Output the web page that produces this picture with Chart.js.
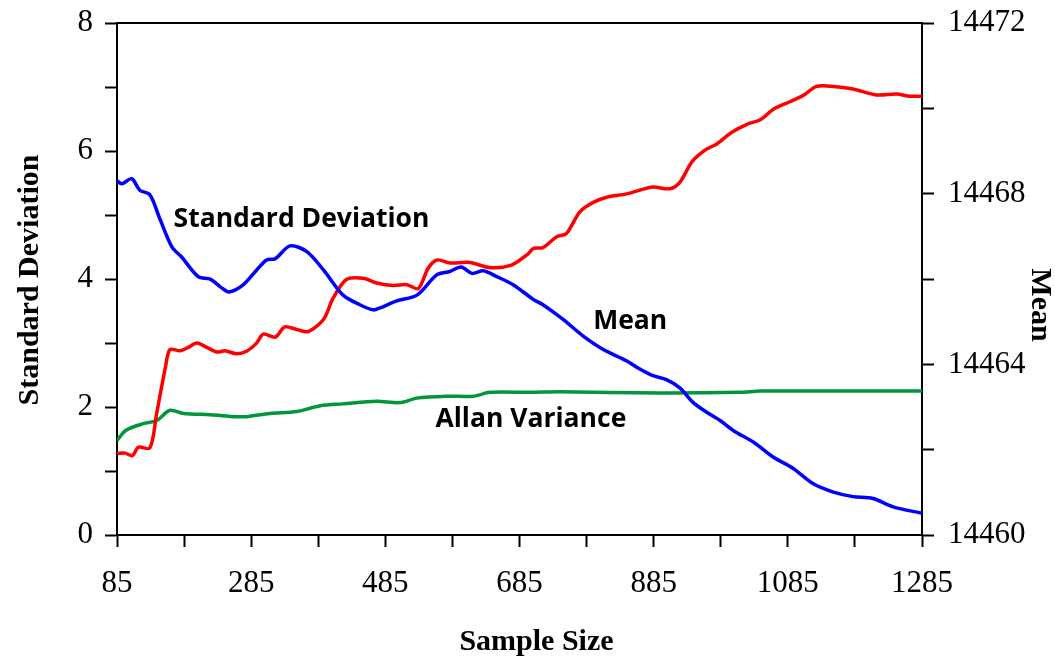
<!DOCTYPE html>
<html>
<head>
<meta charset="utf-8">
<script src="https://cdn.jsdelivr.net/npm/chart.js@4.4.1/dist/chart.umd.min.js"></script>
<style>
  body { margin: 0; background: #fff; }
  canvas { display: block; }
</style>
</head>
<body>
<canvas id="stabilityChart" width="1055" height="656"></canvas>
<script>
// standard deviation (left axis)
var stdSamples = [85, 92, 107, 119, 134, 149, 167, 181, 206, 224, 239, 252, 273, 293, 308, 321, 343, 368, 393, 422, 447, 467, 477, 502, 532, 562, 581, 598, 614, 631, 651, 676, 706, 720, 750, 780, 810, 845, 865, 884, 904, 924, 944, 964, 984, 1004, 1034, 1063, 1093, 1123, 1153, 1182, 1212, 1242, 1285];
var stdValues = [5.54, 5.49, 5.57, 5.39, 5.32, 4.94, 4.50, 4.35, 4.04, 4.00, 3.88, 3.80, 3.91, 4.14, 4.30, 4.32, 4.52, 4.43, 4.14, 3.75, 3.60, 3.52, 3.55, 3.66, 3.75, 4.07, 4.12, 4.19, 4.09, 4.13, 4.04, 3.91, 3.68, 3.60, 3.37, 3.11, 2.90, 2.72, 2.59, 2.49, 2.43, 2.30, 2.07, 1.92, 1.79, 1.63, 1.45, 1.22, 1.04, 0.80, 0.67, 0.60, 0.57, 0.44, 0.34];

// mean (right axis)
var meanSamples = [85, 97, 108, 117, 134, 144, 157, 164, 179, 191, 204, 219, 234, 246, 263, 278, 293, 303, 321, 335, 353, 370, 393, 407, 427, 452, 472, 497, 517, 534, 549, 562, 581, 611, 641, 673, 696, 706, 720, 740, 755, 775, 795, 815, 845, 865, 884, 909, 924, 942, 962, 979, 1001, 1024, 1044, 1063, 1088, 1108, 1128, 1153, 1182, 1217, 1247, 1267, 1285];
var meanValues = [14461.91, 14461.92, 14461.86, 14462.06, 14462.04, 14462.84, 14463.92, 14464.35, 14464.32, 14464.40, 14464.50, 14464.40, 14464.29, 14464.32, 14464.25, 14464.31, 14464.50, 14464.71, 14464.64, 14464.88, 14464.82, 14464.77, 14465.06, 14465.55, 14465.99, 14466.02, 14465.91, 14465.85, 14465.87, 14465.78, 14466.26, 14466.45, 14466.38, 14466.39, 14466.27, 14466.33, 14466.57, 14466.72, 14466.74, 14466.99, 14467.07, 14467.58, 14467.80, 14467.92, 14468.00, 14468.09, 14468.16, 14468.12, 14468.27, 14468.75, 14469.03, 14469.17, 14469.44, 14469.63, 14469.74, 14469.98, 14470.16, 14470.31, 14470.52, 14470.52, 14470.46, 14470.32, 14470.34, 14470.29, 14470.29];

// allan variance (left axis)
var allanSamples = [85, 99, 124, 144, 164, 184, 224, 263, 278, 313, 353, 388, 422, 472, 507, 532, 576, 616, 641, 701, 745, 894, 1014, 1044, 1285];
var allanValues = [1.48, 1.64, 1.74, 1.79, 1.95, 1.90, 1.88, 1.85, 1.85, 1.90, 1.93, 2.02, 2.05, 2.09, 2.07, 2.14, 2.17, 2.17, 2.23, 2.23, 2.24, 2.22, 2.23, 2.25, 2.25];

// labelled ticks
var sampleLabels = [85, 285, 485, 685, 885, 1085, 1285];
var stdLabels = [0, 2, 4, 6, 8];
var meanLabels = [14460, 14464, 14468, 14472];

// in-plot captions, placed in data coordinates of the left axis
var captions = [
    { text: 'Standard Deviation', x: 360, y: 4.94 },
    { text: 'Mean', x: 850, y: 3.34 },
    { text: 'Allan Variance', x: 702, y: 1.80 }
];

function points(xs, ys) {
    return xs.map(function (x, i) { return { x: x, y: ys[i] }; });
}

var serif = 'Liberation Serif, Times New Roman, serif';

function axisGrid() {
    return { drawOnChartArea: false, drawTicks: true, tickLength: 12, tickWidth: 2, tickColor: '#000', color: '#000' };
}

// draw axis titles and the captions
var textPlugin = {
    id: 'textPlugin',
    afterDraw: function (chart) {
        var ctx = chart.ctx;
        var area = chart.chartArea;
        ctx.save();
        ctx.fillStyle = '#000';
        ctx.textAlign = 'center';
        ctx.textBaseline = 'middle';

        ctx.font = 'bold 26.5px "Open Sans"';
        captions.forEach(function (c) {
            ctx.fillText(c.text, chart.scales.x.getPixelForValue(c.x), chart.scales.y.getPixelForValue(c.y));
        });

        ctx.font = 'bold 30px ' + serif;
        ctx.textBaseline = 'alphabetic';
        ctx.fillText('Sample Size', area.left + (area.right - area.left) / 2 + 17, 650);

        ctx.save();
        ctx.translate(38, 280);
        ctx.rotate(-Math.PI / 2);
        ctx.fillText('Standard Deviation', 0, 0);
        ctx.restore();

        ctx.save();
        ctx.translate(1032, 305);
        ctx.rotate(Math.PI / 2);
        ctx.fillText('Mean', 0, 0);
        ctx.restore();

        ctx.restore();
    }
};

var stabilityChart = new Chart(document.getElementById('stabilityChart'), {
    type: 'line',
    data: {
        datasets: [
            {
                label: 'Standard Deviation',
                data: points(stdSamples, stdValues),
                yAxisID: 'y',
                borderColor: '#0000ff',
                borderWidth: 3.5,
                pointRadius: 0,
                tension: 0.3
            },
            {
                label: 'Mean',
                data: points(meanSamples, meanValues),
                yAxisID: 'yMean',
                borderColor: '#ff0000',
                borderWidth: 3.5,
                pointRadius: 0,
                tension: 0.3
            },
            {
                label: 'Allan Variance',
                data: points(allanSamples, allanValues),
                yAxisID: 'y',
                borderColor: '#009639',
                borderWidth: 3.5,
                pointRadius: 0,
                tension: 0.3
            }
        ]
    },
    options: {
        responsive: false,
        animation: false,
        layout: { padding: 0 },
        plugins: {
            legend: { display: false },
            tooltip: { enabled: false }
        },
        scales: {
            x: {
                type: 'linear',
                position: 'bottom',
                min: 85,
                max: 1285,
                grid: axisGrid(),
                border: { color: '#000', width: 2 },
                ticks: {
                    stepSize: 100,
                    autoSkip: false,
                    maxRotation: 0,
                    padding: 18,
                    color: '#000',
                    font: { family: serif, size: 31 },
                    callback: function (v) { return sampleLabels.indexOf(v) >= 0 ? String(v) : ''; }
                },
                afterFit: function (s) { s.height = 121; }
            },
            xTop: {
                type: 'linear',
                position: 'top',
                min: 85,
                max: 1285,
                grid: { display: false },
                border: { color: '#000', width: 2 },
                ticks: { display: false },
                afterFit: function (s) { s.height = 20; }
            },
            y: {
                position: 'left',
                min: 0,
                max: 8,
                grid: axisGrid(),
                border: { color: '#000', width: 2 },
                ticks: {
                    stepSize: 1,
                    padding: 12,
                    color: '#000',
                    font: { family: serif, size: 31, lineHeight: 0.6 },
                    callback: function (v) { return stdLabels.indexOf(v) >= 0 ? String(v) : ''; }
                },
                afterFit: function (s) { s.width = 117; }
            },
            yMean: {
                position: 'right',
                min: 14460,
                max: 14472,
                grid: axisGrid(),
                border: { color: '#000', width: 2 },
                ticks: {
                    stepSize: 2,
                    padding: 14,
                    color: '#000',
                    font: { family: serif, size: 31, lineHeight: 0.6 },
                    callback: function (v) { return meanLabels.indexOf(v) >= 0 ? String(v) : ''; }
                },
                afterFit: function (s) { s.width = 133; }
            }
        }
    },
    plugins: [textPlugin]
});
</script>
</body>
</html>
